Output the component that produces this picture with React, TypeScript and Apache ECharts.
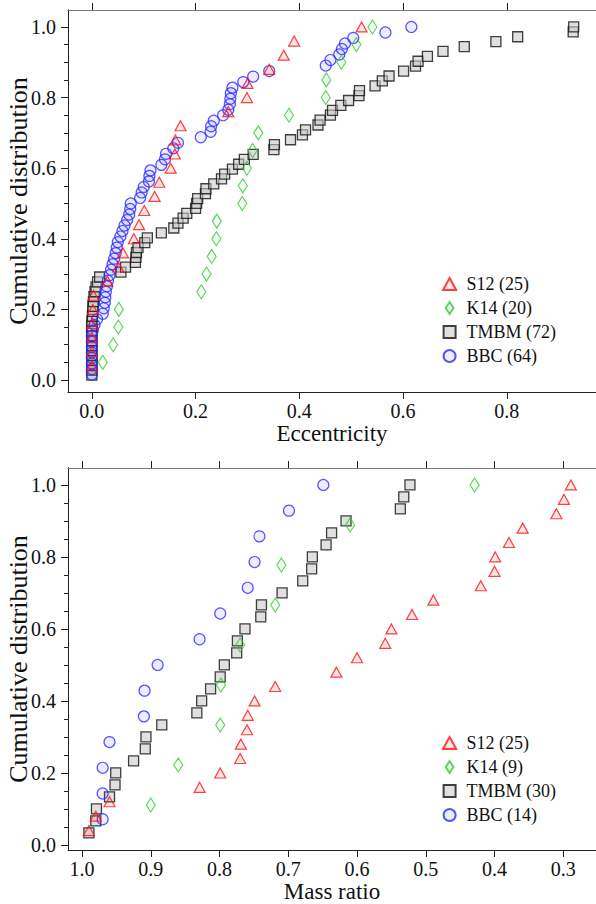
import React, { useEffect, useRef } from "react";
import * as echarts from "echarts";

// ---- Top panel: eccentricity (sorted ascending) ----
const eccS12 = [0, 0, 0, 0.001, 0.002, 0.003, 0.03, 0.051, 0.06, 0.081, 0.091, 0.101, 0.121, 0.13, 0.152, 0.16, 0.161, 0.171, 0.263, 0.299, 0.3, 0.342, 0.37, 0.39, 0.52];
const eccK14 = [0.021, 0.041, 0.051, 0.052, 0.211, 0.221, 0.231, 0.24, 0.241, 0.29, 0.291, 0.299, 0.31, 0.321, 0.38, 0.451, 0.452, 0.481, 0.51, 0.541];
const eccTMBM = [
  0, 0, 0, 0, 0, 0, 0, 0, 0, 0, 0, 0, 0.001, 0.002, 0.002, 0.003, 0.004, 0.006, 0.008, 0.011,
  0.015, 0.056, 0.065, 0.084, 0.085, 0.086, 0.089, 0.102, 0.107, 0.134, 0.158, 0.166, 0.176, 0.183, 0.2, 0.202,
  0.204, 0.219, 0.22, 0.235, 0.25, 0.256, 0.271, 0.283, 0.294, 0.311, 0.351, 0.352, 0.383, 0.406, 0.412, 0.436,
  0.44, 0.46, 0.464, 0.48, 0.495, 0.515, 0.516, 0.546, 0.56, 0.573, 0.601, 0.624, 0.629, 0.647, 0.677, 0.718,
  0.779, 0.821, 0.928, 0.929,
];
const eccBBC = [
  0, 0, 0, 0, 0, 0, 0, 0, 0.002, 0.005, 0.01, 0.021, 0.023, 0.025, 0.026, 0.027, 0.029, 0.031, 0.034, 0.037,
  0.04, 0.043, 0.046, 0.048, 0.05, 0.055, 0.059, 0.063, 0.068, 0.072, 0.074, 0.075, 0.093, 0.096, 0.1, 0.11,
  0.111, 0.113, 0.134, 0.141, 0.143, 0.157, 0.166, 0.21, 0.229, 0.23, 0.235, 0.253, 0.263, 0.266, 0.267, 0.268,
  0.271, 0.292, 0.311, 0.342, 0.451, 0.46, 0.477, 0.482, 0.488, 0.504, 0.566, 0.616,
];

// ---- Bottom panel: mass ratio (sorted descending, cumulated from q = 1) ----
const qS12 = [0.99, 0.98, 0.96, 0.829, 0.799, 0.77, 0.769, 0.76, 0.759, 0.749, 0.719, 0.63, 0.6, 0.559, 0.55, 0.52, 0.489, 0.42, 0.4, 0.399, 0.379, 0.359, 0.31, 0.299, 0.289];
const qK14 = [0.9, 0.86, 0.799, 0.798, 0.77, 0.719, 0.71, 0.61, 0.429];
const qTMBM = [0.99, 0.98, 0.979, 0.96, 0.952, 0.951, 0.925, 0.908, 0.907, 0.884, 0.833, 0.826, 0.813, 0.799, 0.793, 0.775, 0.774, 0.763, 0.74, 0.739, 0.709, 0.679, 0.666, 0.665, 0.645, 0.637, 0.616, 0.537, 0.532, 0.523];
const qBBC = [0.97, 0.97, 0.97, 0.96, 0.91, 0.909, 0.89, 0.829, 0.799, 0.759, 0.749, 0.742, 0.699, 0.649];

const namesTop = ["S12 (25)", "K14 (20)", "TMBM (72)", "BBC (64)"];
const namesBottom = ["S12 (25)", "K14 (9)", "TMBM (30)", "BBC (14)"];

const eccTicks = [0, 0.2, 0.4, 0.6, 0.8];
const qTicks = [1.0, 0.9, 0.8, 0.7, 0.6, 0.5, 0.4, 0.3];
const cdfTicks = [0, 0.2, 0.4, 0.6, 0.8, 1.0];
const cdfMinor = [0.05, 0.1, 0.15, 0.25, 0.3, 0.35, 0.45, 0.5, 0.55, 0.65, 0.7, 0.75, 0.85, 0.9, 0.95];

const FONT = '"Liberation Serif", "DejaVu Serif", "Times New Roman", serif';

const cdf = (arr: number[]) => arr.map((v, i) => [v, (i + 1) / arr.length]);

const styles = {
  S12: { symbol: "triangle", symbolSize: [11, 10], itemStyle: { color: "rgba(255,0,0,0.12)", borderColor: "#ff1010", borderWidth: 1.2 } },
  K14: { symbol: "diamond", symbolSize: [9, 14], itemStyle: { color: "rgba(60,200,60,0.06)", borderColor: "#33cc33", borderWidth: 1.2 } },
  TMBM: { symbol: "rect", symbolSize: [10, 10], itemStyle: { color: "rgba(200,200,200,0.7)", borderColor: "#111", borderWidth: 1.3 } },
  BBC: { symbol: "circle", symbolSize: 11, itemStyle: { color: "rgba(60,60,255,0.12)", borderColor: "#2a2aff", borderWidth: 1.2 } },
};

// legend icons that keep their own aspect ratio
const legendIcons = [
  "path://M5.5,0 L11,10 L0,10 Z",
  "path://M4.5,0 L9,7 L4.5,14 L0,7 Z",
  "path://M0,0 L10,0 L10,10 L0,10 Z",
  "circle",
];

const fmt = (v: number) => v.toFixed(1);

function xAxisPair(gridIndex: number, min: number, max: number, ticks: number[], name: string, inverse: boolean) {
  return [
    {
      type: "value", gridIndex, position: "bottom", min, max, inverse,
      name, nameLocation: "middle", nameGap: 29,
      nameTextStyle: { fontFamily: FONT, fontSize: 23, color: "#111" },
      axisLine: { show: true, onZero: false, lineStyle: { color: "#222", width: 1 } },
      axisTick: { show: true, length: 7, customValues: ticks, lineStyle: { color: "#222" } },
      axisLabel: { show: true, customValues: ticks, formatter: fmt, margin: 9, fontFamily: FONT, fontSize: 20, color: "#111" },
      splitLine: { show: false },
    },
    {
      type: "value", gridIndex, position: "top", min, max, inverse,
      axisLine: { show: true, onZero: false, lineStyle: { color: "#777", width: 1 } },
      axisTick: { show: true, length: 7, customValues: ticks, lineStyle: { color: "#222" } },
      axisLabel: { show: false },
      splitLine: { show: false },
    },
  ];
}

function yAxisPair(gridIndex: number, min: number, max: number) {
  return [
    {
      type: "value", gridIndex, position: "left", min, max,
      name: "Cumulative distribution", nameLocation: "middle", nameGap: 37, nameMoveOverlap: false,
      nameTextStyle: { fontFamily: FONT, fontSize: 26, color: "#111" },
      axisLine: { show: true, onZero: false, lineStyle: { color: "#222", width: 1 } },
      axisTick: { show: true, length: 7, customValues: cdfTicks, lineStyle: { color: "#222" } },
      axisLabel: { show: true, customValues: cdfTicks, formatter: fmt, margin: 12, fontFamily: FONT, fontSize: 20, color: "#111" },
      splitLine: { show: false },
    },
    {
      type: "value", gridIndex, position: "left", min, max,
      axisLine: { show: true, onZero: false, lineStyle: { color: "#222", width: 1 } },
      axisTick: { show: true, length: 4, customValues: cdfMinor, lineStyle: { color: "#222" } },
      axisLabel: { show: false },
      splitLine: { show: false },
    },
  ];
}

export default function App() {
  const ref = useRef<HTMLDivElement>(null);
  useEffect(() => {
    if (!ref.current) return;
    const chart = echarts.init(ref.current, null, { renderer: "svg" });
    const mk = (name: string, key: keyof typeof styles, data: number[][], xi: number, yi: number) => ({
      type: "scatter", name, data, xAxisIndex: xi, yAxisIndex: yi, ...styles[key],
      emphasis: { disabled: true },
    });
    const legendBase = {
      orient: "vertical", left: 437, itemWidth: 24, itemHeight: 12, itemGap: 6,
      selectedMode: false, symbolKeepAspect: true,
      textStyle: { fontFamily: FONT, fontSize: 18, color: "#111" },
    };
    const legendData = (names: string[]) => names.map((n, i) => ({ name: n, icon: legendIcons[i] }));
    chart.setOption({
      animation: false,
      backgroundColor: "#ffffff",
      grid: [
        { left: 68, top: 10, width: 528, height: 382, containLabel: false, outerBoundsMode: "none" },
        { left: 68, top: 468, width: 528, height: 382, containLabel: false, outerBoundsMode: "none" },
      ],
      xAxis: [
        ...xAxisPair(0, -0.046, 0.972, eccTicks, "Eccentricity", false),
        ...xAxisPair(1, 0.2524, 1.0204, qTicks, "Mass ratio", true),
      ],
      yAxis: [...yAxisPair(0, -0.034, 1.048), ...yAxisPair(1, -0.014, 1.047)],
      legend: [
        { ...legendBase, top: 270, data: legendData(namesTop) },
        { ...legendBase, top: 729, data: legendData(namesBottom) },
      ],
      series: [
        mk(namesTop[2], "TMBM", cdf(eccTMBM), 0, 0),
        mk(namesTop[3], "BBC", cdf(eccBBC), 0, 0),
        mk(namesTop[1], "K14", cdf(eccK14), 0, 0),
        mk(namesTop[0], "S12", cdf(eccS12), 0, 0),
        mk(namesBottom[2], "TMBM", cdf(qTMBM), 2, 2),
        mk(namesBottom[3], "BBC", cdf(qBBC), 2, 2),
        mk(namesBottom[1], "K14", cdf(qK14), 2, 2),
        mk(namesBottom[0], "S12", cdf(qS12), 2, 2),
      ],
    });
    return () => chart.dispose();
  }, []);
  return <div ref={ref} style={{ position: "absolute", left: 0, top: 0, width: 596, height: 904 }} />;
}
